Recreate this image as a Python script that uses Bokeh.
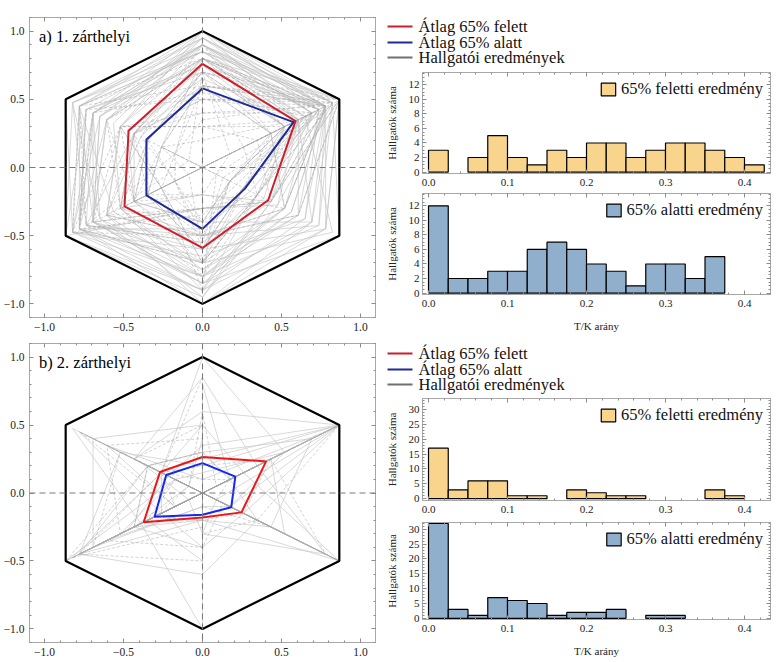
import numpy as np
from bokeh.plotting import figure
from bokeh.models import (Range1d, FixedTicker, LinearAxis, Span, Legend,
                          LegendItem, CustomJSTickFormatter)
from bokeh.layouts import row, column
from bokeh.embed import file_html
from bokeh.resources import INLINE
from bokeh.core.properties import value

FONT = "Liberation Serif, DejaVu Serif, serif"

# ---------------- data ----------------
AXIS_ANGLES = [90, 30, -30, -90, -150, 150]
OUTER_R = [1, 1, 1, 1, 1, 1]

EX1_MEAN_HI = [0.76, 0.68, 0.48, 0.59, 0.57, 0.54]
EX1_MEAN_LO = [0.58, 0.665, 0.31, 0.45, 0.41, 0.41]
EX2_MEAN_HI = [0.265, 0.465, 0.285, 0.18, 0.43, 0.31]
EX2_MEAN_LO = [0.22, 0.24, 0.21, 0.16, 0.35, 0.265]

EX1_HI = [
    [1.0, 0.9, 0.6, 0.8, 0.7, 0.6], [0.9, 0.8, 0.4, 0.7, 0.8, 0.7],
    [0.8, 0.7, 0.7, 0.5, 0.6, 0.5], [1.0, 1.0, 0.5, 0.9, 0.9, 0.8],
    [0.7, 0.6, 0.3, 0.6, 0.5, 0.4], [0.9, 0.9, 0.8, 1.0, 0.7, 0.6],
    [0.6, 0.5, 0.2, 0.4, 0.5, 0.5], [0.85, 0.8, 0.6, 0.7, 0.9, 0.9],
    [0.8, 1.0, 0.9, 0.6, 0.4, 0.3], [1.0, 0.7, 0.5, 0.3, 0.8, 0.7],
    [0.75, 0.6, 0.4, 0.9, 0.6, 0.5], [0.9, 0.85, 0.7, 0.8, 0.95, 0.8],
    [0.6, 0.9, 0.5, 0.2, 0.6, 0.4], [0.8, 0.75, 0.3, 0.7, 0.3, 0.6],
    [1.0, 0.95, 1.0, 0.85, 0.8, 0.9], [0.7, 0.5, 0.6, 0.5, 0.7, 0.45],
    [0.9, 0.8, 0.2, 0.6, 0.8, 0.75], [0.65, 0.7, 0.8, 0.4, 0.5, 0.55],
    [0.95, 0.9, 0.6, 0.75, 0.6, 0.65], [0.8, 0.6, 0.45, 0.55, 0.85, 0.5],
    [0.85, 0.95, 0.55, 0.95, 1.0, 0.95], [0.75, 0.85, 0.35, 0.45, 0.9, 0.85],
    [1.0, 1.0, 0.9, 0.9, 1.0, 1.0], [0.95, 0.9, 0.75, 0.65, 0.95, 0.9],
    [0.9, 0.95, 0.85, 0.5, 0.85, 0.95], [0.7, 0.9, 0.65, 0.8, 0.9, 0.85],
    [1.0, 0.85, 0.4, 0.6, 0.95, 1.0], [0.85, 1.0, 0.7, 0.75, 0.75, 0.8],
    [0.8, 0.9, 0.9, 1.0, 0.9, 0.7], [0.9, 0.7, 0.55, 0.3, 1.0, 0.85],
    [0.95, 0.95, 0.8, 0.85, 0.8, 0.75], [0.85, 0.75, 0.95, 0.7, 0.65, 0.9],
    [0.9, 0.9, 0.65, 0.85, 0.85, 0.8], [0.8, 0.85, 0.75, 0.9, 0.95, 0.75],
    [0.95, 0.8, 0.5, 0.95, 0.75, 0.95], [0.75, 0.9, 0.85, 0.8, 0.8, 0.8],
]
EX1_LO = [
    [0.6, 0.9, 0.3, 0.5, 0.4, 0.3], [0.5, 0.8, 0.0, 0.4, 0.6, 0.5],
    [0.7, 1.0, 0.5, 0.6, 0.2, 0.4], [0.3, 0.6, 0.2, 0.0, 0.5, 0.6],
    [0.8, 0.7, 0.4, 0.7, 0.3, 0.2], [0.4, 0.9, 0.0, 0.3, 0.7, 0.5],
    [0.6, 0.5, 0.6, 0.5, 0.0, 0.3], [0.0, 0.8, 0.3, 0.6, 0.4, 0.4],
    [0.7, 0.2, 0.1, 0.2, 0.5, 0.7], [0.5, 0.95, 0.4, 0.8, 0.6, 0.0],
    [0.9, 0.6, 0.2, 0.4, 0.3, 0.5], [0.3, 0.4, 0.5, 0.3, 0.8, 0.6],
    [0.6, 1.0, 0.7, 0.5, 0.2, 0.2], [0.8, 0.85, 0.0, 0.0, 0.6, 0.7],
    [0.2, 0.7, 0.3, 0.6, 0.1, 0.3], [0.65, 0.3, 0.4, 0.7, 0.5, 0.4],
    [0.5, 0.9, 0.6, 0.2, 0.4, 0.5], [0.7, 0.6, 0.2, 0.5, 0.7, 0.1],
    [0.4, 0.8, 0.1, 0.9, 0.3, 0.6], [0.9, 0.5, 0.3, 0.4, 0.2, 0.45],
    [0.55, 0.75, 0.25, 0.35, 0.9, 0.8], [0.35, 0.95, 0.15, 0.55, 0.85, 0.2],
    [0.6, 0.95, 0.4, 0.3, 0.95, 0.9], [0.0, 0.9, 0.0, 0.0, 0.5, 0.3],
    [0.5, 1.0, 0.2, 0.7, 0.9, 0.85], [0.8, 0.9, 0.5, 0.0, 0.85, 0.9],
    [0.3, 0.7, 0.0, 0.5, 0.95, 0.6], [0.7, 0.85, 0.3, 0.8, 0.4, 0.0],
]
EX2_HI = [
    [0.0, 1.0, 0.0, 0.0, 0.9, 0.0], [0.3, 0.8, 0.5, 0.2, 0.5, 0.4],
    [0.0, 0.0, 1.0, 0.0, 0.6, 0.2], [0.85, 0.4, 0.0, 0.3, 0.0, 0.5],
    [0.2, 1.0, 0.3, 0.0, 0.9, 0.6], [0.0, 0.3, 0.0, 0.5, 0.4, 0.0],
    [0.5, 0.0, 0.2, 0.1, 0.8, 0.8], [1.0, 0.6, 0.0, 0.0, 0.3, 0.3],
    [0.0, 1.0, 1.0, 0.2, 0.0, 0.0], [0.3, 0.2, 0.4, 0.6, 0.9, 0.4],
    [0.1, 0.9, 0.0, 0.0, 0.2, 0.7], [0.4, 0.0, 0.3, 0.4, 0.5, 0.1],
    [0.0, 0.5, 0.6, 0.0, 0.95, 0.3], [0.6, 1.0, 0.1, 0.3, 0.0, 0.5],
    [0.2, 0.0, 0.8, 0.0, 0.6, 0.0], [0.0, 0.7, 0.0, 0.4, 0.3, 0.9],
    [0.35, 1.0, 0.2, 0.0, 0.55, 0.25], [0.8, 0.2, 0.0, 0.1, 0.7, 0.0],
    [0.0, 0.4, 0.9, 0.3, 0.1, 0.45], [0.15, 0.6, 0.2, 0.0, 1.0, 0.2],
    [0.0, 1.0, 1.0, 0.0, 0.9, 0.0], [0.5, 0.3, 1.0, 0.0, 0.0, 0.3],
    [0.0, 0.0, 0.0, 1.0, 0.45, 0.95], [0.25, 1.0, 0.0, 0.2, 0.9, 0.0],
]
EX2_LO = [
    [0.0, 0.3, 0.0, 0.0, 0.4, 0.2], [0.2, 0.0, 0.5, 0.1, 0.0, 0.3],
    [0.0, 1.0, 0.0, 0.0, 0.3, 0.0], [0.5, 0.0, 0.0, 0.4, 0.0, 0.5],
    [0.0, 0.0, 1.0, 0.0, 0.9, 0.0], [0.3, 0.2, 0.1, 0.0, 0.5, 0.4],
    [0.0, 0.4, 0.0, 0.3, 0.0, 0.0], [0.85, 0.0, 0.2, 0.0, 0.2, 0.3],
    [0.0, 0.0, 0.0, 0.0, 0.8, 0.6], [0.2, 0.5, 0.3, 0.2, 0.4, 0.0],
    [0.4, 0.0, 0.0, 0.0, 0.6, 0.7], [0.0, 1.0, 0.4, 0.3, 0.0, 0.0],
    [0.1, 0.2, 0.0, 0.5, 0.9, 0.3], [0.0, 0.0, 0.3, 0.0, 0.2, 0.9],
    [0.6, 0.1, 0.0, 0.2, 0.35, 0.1], [0.0, 0.5, 0.9, 0.0, 0.0, 0.2],
    [0.25, 0.0, 0.15, 0.4, 0.7, 0.0], [0.0, 0.3, 0.0, 0.0, 1.0, 0.4],
    [0.0, 0.0, 1.0, 0.0, 0.0, 0.85], [0.45, 0.0, 0.0, 0.25, 0.95, 0.0],
]

BIN_EDGES = [0.0, 0.025, 0.05, 0.075, 0.1, 0.125, 0.15, 0.175, 0.2,
             0.225, 0.25, 0.275, 0.3, 0.325, 0.35, 0.375, 0.4, 0.425]
H1_HI = [3, 0, 2, 5, 2, 1, 3, 2, 4, 4, 2, 3, 4, 4, 3, 2, 1]
H1_LO = [12, 2, 2, 3, 3, 6, 7, 6, 4, 3, 1, 4, 4, 2, 5, 0, 0]
H2_HI = [17, 3, 6, 6, 1, 1, 0, 3, 2, 1, 1, 0, 0, 0, 3, 1, 0]
H2_LO = [32, 3, 1, 7, 6, 5, 1, 2, 2, 3, 0, 1, 1, 0, 0, 0, 0]

LEGEND_LABELS = ["Átlag 65% felett", "Átlag 65% alatt", "Hallgatói eredmények"]
HIST_LABELS = ["65% feletti eredmény", "65% alatti eredmény"]

# ---------------- style ----------------
FRAME = "#A8A8A8"
TICKC = "#8C8C8C"
LABELC = "#222222"
ORANGE = "#F9D48C"
STEEL = "#8FAFCD"


def polar_xy(r):
    ang = np.deg2rad(AXIS_ANGLES)
    r = np.asarray(r, float)
    x = r * np.cos(ang)
    y = r * np.sin(ang)
    return list(np.append(x, x[0])), list(np.append(y, y[0]))


def fmt(code):
    return CustomJSTickFormatter(code=code)


def style_axis(ax, ticker, formatter, size="11px", standoff=4):
    ax.ticker = ticker
    ax.formatter = formatter
    ax.axis_line_color = FRAME
    ax.major_tick_line_color = TICKC
    ax.minor_tick_line_color = TICKC
    ax.major_tick_in = 4
    ax.major_tick_out = 0
    ax.minor_tick_in = 2
    ax.minor_tick_out = 0
    ax.major_label_text_font = FONT
    ax.major_label_text_font_size = size
    ax.major_label_text_color = LABELC
    ax.major_label_standoff = standoff


def add_mirror_axes(p, xt, yt):
    top = LinearAxis()
    style_axis(top, xt, fmt("return ''"), "0px", 0)
    right = LinearAxis()
    style_axis(right, yt, fmt("return ''"), "0px", 0)
    p.add_layout(top, "above")
    p.add_layout(right, "right")


def radar(title, hi, lo, mean_hi, mean_lo, c_hi, c_lo, height, btop, bbot):
    p = figure(width=380, height=height, x_range=Range1d(-1.095, 1.095),
               y_range=Range1d(-1.1, 1.1), min_border_left=29,
               min_border_right=5, min_border_top=btop, min_border_bottom=bbot,
               toolbar_location=None, output_backend="svg")
    p.grid.visible = False
    p.outline_line_color = FRAME
    xt = FixedTicker(ticks=[-1, -0.5, 0, 0.5, 1],
                     minor_ticks=list(np.round(np.arange(-1.1, 1.101, 0.1), 2)))
    yt = FixedTicker(ticks=[-1, -0.5, 0, 0.5, 1],
                     minor_ticks=list(np.round(np.arange(-1.1, 1.101, 0.1), 2)))
    f = fmt("return tick.toFixed(1).replace('-', '\u2212')")
    style_axis(p.below[0], xt, f, "11.5px", 5)
    style_axis(p.left[0], yt, f, "11.5px", 5)
    add_mirror_axes(p, xt, yt)

    hx, hy = zip(*[polar_xy(r) for r in hi])
    p.multi_line(xs=list(hx), ys=list(hy), line_color="#C2C2C2",
                 line_width=0.7, line_alpha=0.9)
    lx, ly = zip(*[polar_xy(r) for r in lo])
    p.multi_line(xs=list(lx), ys=list(ly), line_color="#A6A6A6",
                 line_width=0.6, line_alpha=0.85, line_dash="3 2")

    for dim in ("height", "width"):
        p.add_layout(Span(location=0, dimension=dim, line_color="#7A7A7A",
                          line_width=1.1, line_dash="6 4"))

    ox, oy = polar_xy(OUTER_R)
    p.line(ox, oy, line_color="black", line_width=2.2)
    mx, my = polar_xy(mean_hi)
    p.line(mx, my, line_color=c_hi, line_width=2)
    mx, my = polar_xy(mean_lo)
    p.line(mx, my, line_color=c_lo, line_width=2)

    p.text(x=[-1.035], y=[0.96], text=[title], text_font=value(FONT),
           text_font_size="16.5px", text_baseline="middle", text_align="left",
           text_color="black")
    return p


def legend_fig(height, ys, c_hi, c_lo):
    # no axes at all: the frame is the whole 399 px wide canvas,
    # so one data unit is one pixel
    p = figure(width=399, height=height, x_range=Range1d(0, 399),
               y_range=Range1d(height, 0), min_border=0,
               x_axis_location=None, y_axis_location=None,
               toolbar_location=None, output_backend="svg")
    p.grid.visible = False
    p.outline_line_color = None
    colors = [c_hi, c_lo, "#707070"]
    p.segment(x0=[7] * 3, x1=[32] * 3, y0=ys, y1=ys, line_color=colors,
              line_width=2)
    p.text(x=[38] * 3, y=ys, text=LEGEND_LABELS, text_font=value(FONT),
           text_font_size="16.5px", text_baseline="middle", text_align="left",
           text_color="#111111")
    return p


def hist(counts, color, label, yr, yticks, yminor, height, btop, bbot, xlabel):
    p = figure(width=399, height=height, x_range=Range1d(-0.0076, 0.4329),
               y_range=Range1d(*yr), min_border_left=42, min_border_right=9,
               min_border_top=btop, min_border_bottom=bbot,
               toolbar_location=None, output_backend="svg")
    p.grid.visible = False
    p.outline_line_color = FRAME
    xt = FixedTicker(ticks=[0.0, 0.1, 0.2, 0.3, 0.4],
                     minor_ticks=list(np.round(np.arange(0, 0.44, 0.02), 3)))
    yt = FixedTicker(ticks=yticks, minor_ticks=yminor)
    xa = p.below[0]
    ya = p.left[0]
    style_axis(xa, xt, fmt("return tick.toFixed(1)"), "11px", 5)
    style_axis(ya, yt, fmt("return tick.toFixed(0)"), "11px", 3)
    ya.axis_label = "Hallgatók száma"
    ya.axis_label_text_font = FONT
    ya.axis_label_text_font_size = "11px"
    ya.axis_label_text_font_style = "normal"
    ya.axis_label_text_color = LABELC
    ya.axis_label_standoff = 8
    if xlabel:
        xa.axis_label = xlabel
        xa.axis_label_text_font = FONT
        xa.axis_label_text_font_size = "11px"
        xa.axis_label_text_font_style = "normal"
        xa.axis_label_text_color = LABELC
        xa.axis_label_standoff = 10
    add_mirror_axes(p, xt, yt)

    left = [BIN_EDGES[i] for i, c in enumerate(counts) if c > 0]
    right = [BIN_EDGES[i + 1] for i, c in enumerate(counts) if c > 0]
    top = [c for c in counts if c > 0]
    r = p.quad(left=left, right=right, bottom=0, top=top, fill_color=color,
               line_color="black", line_width=1.2)
    leg = Legend(items=[LegendItem(label=label, renderers=[r])],
                 location="top_right", glyph_width=18, glyph_height=16,
                 label_text_font=FONT, label_text_font_size="16.5px",
                 label_text_color="#111111", label_standoff=4,
                 border_line_alpha=0, background_fill_alpha=0,
                 margin=4, padding=3, label_height=16)
    p.add_layout(leg)
    return p


RED1, BLUE1 = "#CC1F2B", "#1E2A98"
RED2, BLUE2 = "#F01515", "#1428F0"

y12 = [0, 2, 4, 6, 8, 10, 12]
y12m = list(np.arange(0, 14, 0.5))
y30 = [0, 5, 10, 15, 20, 25, 30]
y30m = list(range(0, 34))

r1 = radar("a) 1. zárthelyi", EX1_HI, EX1_LO, EX1_MEAN_HI, EX1_MEAN_LO,
           RED1, BLUE1, 336, 17, 19)
l1 = legend_fig(70, [26, 42, 57], RED1, BLUE1)
h1 = hist(H1_HI, ORANGE, HIST_LABELS[0], (-0.2, 13.7), y12, y12m, 120, 2, 17, None)
h2 = hist(H1_LO, STEEL, HIST_LABELS[1], (-0.2, 13.7), y12, y12m, 146, 3, 42, "T/K arány")

r2 = radar("b) 2. zárthelyi", EX2_HI, EX2_LO, EX2_MEAN_HI, EX2_MEAN_LO,
           RED2, BLUE2, 326, 7, 20)
l2 = legend_fig(60, [17, 33, 48], RED1, BLUE1)
h3 = hist(H2_HI, ORANGE, HIST_LABELS[0], (-0.6, 33.7), y30, y30m, 120, 2, 16, None)
h4 = hist(H2_LO, STEEL, HIST_LABELS[1], (-0.4, 32.3), y30, y30m, 146, 6, 43, "T/K arány")

layout = column(
    row(r1, column(row(l1, spacing=0), column(h1, h2, spacing=0), spacing=0),
        spacing=0),
    row(r2, column(row(l2, spacing=0), column(h3, h4, spacing=0), spacing=0),
        spacing=0),
    spacing=0,
)

open("out.html", "w").write(file_html(layout, INLINE, "chart"))
